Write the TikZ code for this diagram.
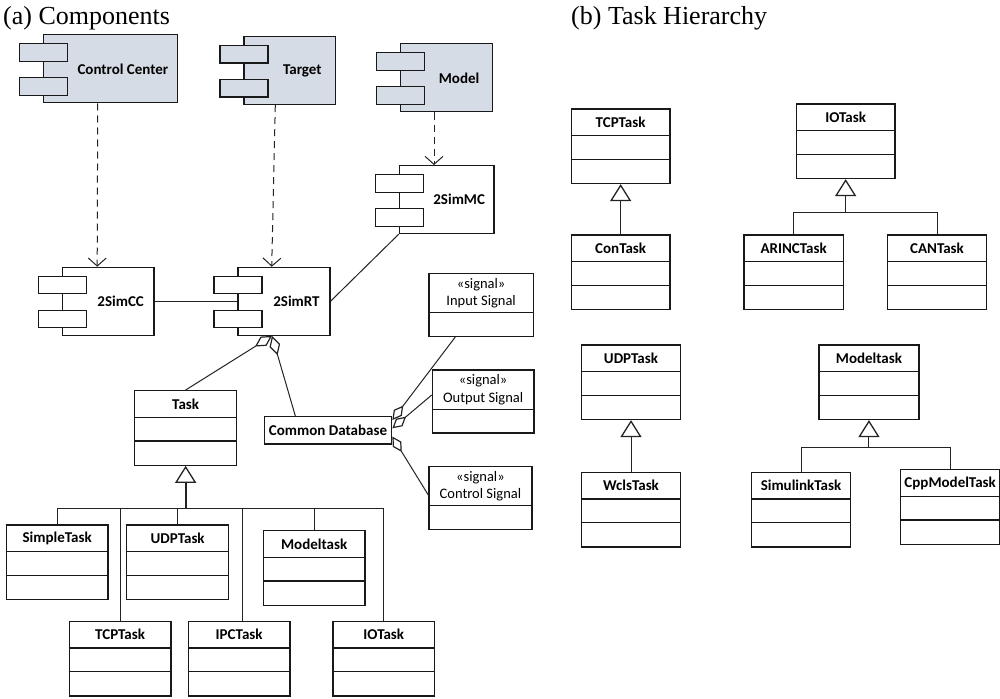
\documentclass[tikz,border=0pt]{standalone}
\usepackage{fontspec}
\setmainfont{Carlito}
\newfontfamily\headfont{Liberation Serif}
\usetikzlibrary{arrows.meta,calc}

\definecolor{compfill}{RGB}{214,220,229}
\definecolor{ink}{RGB}{25,25,25}
\definecolor{wire}{RGB}{35,35,35}

\tikzset{
  head/.style={anchor=base west, inner sep=0pt, font=\headfont\fontsize{26}{30}\selectfont},
  bold/.style={inner sep=0pt, font=\bfseries\fontsize{15}{18}\selectfont},
  plain/.style={inner sep=0pt, align=center, font=\fontsize{14.5}{17.4}\selectfont},
  compbody/.style={draw=ink, line width=1.2pt, minimum height=68pt, inner sep=0pt, anchor=north west},
  compport/.style={draw=ink, line width=1.2pt, minimum width=48pt, minimum height=17.5pt, inner sep=0pt, anchor=north west},
  clsbox/.style={draw=ink, line width=1.3pt, minimum height=74.5pt, inner sep=0pt, anchor=north west},
  sigbox/.style={draw=ink, line width=1.3pt, minimum height=63pt, inner sep=0pt, anchor=north west},
  dbbox/.style={draw=ink, line width=1.3pt, minimum width=127.4pt, minimum height=27.3pt, inner sep=0pt, bold},
  clsdiv/.style={draw=ink, line width=1.3pt},
  dep/.style={draw=wire, line width=1pt, dash pattern=on 7pt off 5pt,
    -{Straight Barb[length=8pt, width=18pt, line width=1pt]}},
  assoc/.style={draw=wire, line width=1pt},
  agg/.style={draw=wire, line width=1pt,
    -{Diamond[open, length=20pt, width=11pt, line width=1.2pt]}},
  aggs/.style={draw=wire, line width=1pt,
    -{Diamond[open, length=18pt, width=10pt, line width=1.2pt]}},
  gen/.style={draw=wire, line width=1pt,
    -{Triangle[open, length=17pt, width=21pt, line width=1.3pt]}},
  genthick/.style={gen, line width=2pt},
  tree/.style={draw=wire, line width=1pt},
}

% UML component: name, left x, top y, width, fill, label
\newcommand\umlcomp[6]{%
  \node[compbody, fill=#5, minimum width=#4pt] (#1) at (#2,#3) {};
  \node[compport, fill=#5] (#1-p1) at ($(#1.north west)+(-24,9)$) {};
  \node[compport, fill=#5] (#1-p2) at ($(#1.north west)+(-24,43)$) {};
  \node[bold] (#1-l) at ($(#1-p1.east |- #1.center)!0.5!(#1.east)$) {#6};
}

% UML class with two empty compartments: name, left x, top y, width, title
\newcommand\umlclass[5]{%
  \node[clsbox, minimum width=#4pt] (#1) at (#2,#3) {};
  \node[bold] (#1-t) at ($(#1.north)+(0,14)$) {#5};
  \draw[clsdiv] ($(#1.north west)+(0,27.3)$) -- ($(#1.north east)+(0,27.3)$);
  \draw[clsdiv] ($(#1.north west)+(0,51)$) -- ($(#1.north east)+(0,51)$);
}

% stereotyped signal class: name, left x, top y, width, label
\newcommand\umlsignal[5]{%
  \node[sigbox, minimum width=#4pt] (#1) at (#2,#3) {};
  \node[plain] (#1-t) at ($(#1.north)+(0,20.5)$) {«signal»\\#5};
  \draw[clsdiv] ($(#1.north west)+(0,40)$) -- ($(#1.north east)+(0,40)$);
}

\begin{document}
\begin{tikzpicture}[x=1pt, y=-1pt]
\useasboundingbox (0,0) rectangle (1000,698);

% headings
\node[head] (ha) at (3,24.5) {(a) Components};
\node[head] (hb) at (571,24.5) {(b) Task Hierarchy};

% ---------- (a) components ----------
\umlcomp{cc}{42.7}{34.3}{134}{compfill}{Control Center}
\umlcomp{tg}{243.3}{36}{91.7}{compfill}{Target}
\umlcomp{mdl}{400}{43.3}{91.7}{compfill}{Model}
\umlcomp{mc}{398.7}{165}{94.6}{white}{2SimMC}
\umlcomp{scc}{61.7}{266.7}{91.6}{white}{2SimCC}
\umlcomp{rt}{237.3}{266.7}{92}{white}{2SimRT}

% dependencies
\coordinate (cc-dep) at ($(cc.south west)+(55,0)$);
\coordinate (scc-dep) at ($(scc.north west)+(35.5,0)$);
\coordinate (tg-dep) at ($(tg.south west)+(32,0)$);
\coordinate (rt-dep) at ($(rt.north west)+(34.4,0)$);
\coordinate (mdl-dep) at ($(mdl.south west)+(34,0)$);
\draw[dep] (cc-dep) -- (scc-dep);
\draw[dep] (tg-dep) -- (rt-dep);
\draw[dep] (mdl-dep) -- (mdl-dep |- mc.north);

% associations
\draw[assoc] (scc.east) -- (rt.west);
\draw[assoc] (mc.south west) -- (rt.east);

% classes
\umlclass{task}{134}{390}{102}{Task}
\node[dbbox] (cdb) at (328,430.3) {Common Database};
\umlsignal{insig}{428.3}{272.7}{104.4}{Input Signal}
\umlsignal{outsig}{431.7}{369.3}{101.6}{Output Signal}
\umlsignal{ctlsig}{428.3}{465.7}{103}{Control Signal}

% aggregations into 2SimRT
\coordinate (rt-agg) at ($(rt.south west)+(34.7,0)$);
\coordinate (cdb-top) at ($(cdb.north west)+(31.7,0)$);
\draw[agg] (task.north) -- (rt-agg);
\draw[agg] (cdb-top) -- (rt-agg);

% aggregations into Common Database
\coordinate (cdb-a1) at ($(cdb.north east)+(0,4)$);
\coordinate (cdb-a2) at ($(cdb.north east)+(0,12.3)$);
\coordinate (cdb-a3) at ($(cdb.north east)+(0,20.6)$);
\coordinate (in-a) at ($(insig.south west)+(27,0)$);
\coordinate (out-a) at ($(outsig.north west)+(0,25.7)$);
\coordinate (ctl-a) at ($(ctlsig.north west)+(0,29.3)$);
\draw[aggs] (in-a) -- (cdb-a1);
\draw[aggs] (out-a) -- (cdb-a2);
\draw[aggs] (ctl-a) -- (cdb-a3);

% task subclasses
\umlclass{simple}{5.7}{524.3}{101.6}{SimpleTask}
\umlclass{udp}{126}{524.3}{102}{UDPTask}
\umlclass{model}{262.7}{530}{101.6}{Modeltask}
\umlclass{tcp}{68.7}{620.7}{101.6}{TCPTask}
\umlclass{ipc}{187.7}{620.7}{101.6}{IPCTask}
\umlclass{io}{332.3}{620.7}{101.7}{IOTask}

\coordinate (tbus) at ($(task.south)+(0,42.4)$);
\coordinate (ipc-up) at ($(ipc.north)+(3,0)$);
\draw[genthick] (tbus) -- (task.south);
\draw[tree] (tbus -| simple.north) -- (tbus -| io.north);
\draw[tree] (tbus -| simple.north) -- (simple.north);
\draw[tree] (tbus -| tcp.north) -- (tcp.north);
\draw[tree] (tbus -| udp.north) -- (udp.north);
\draw[tree] (tbus -| ipc-up) -- (ipc-up);
\draw[tree] (tbus -| model.north) -- (model.north);
\draw[tree] (tbus -| io.north) -- (io.north);

% ---------- (b) task hierarchy ----------
\umlclass{tcp2}{570.7}{108.3}{98.6}{TCPTask}
\umlclass{con}{570.7}{234.3}{98.6}{ConTask}
\draw[gen] (con.north) -- (tcp2.south);

\umlclass{io2}{795.7}{103.3}{98.6}{IOTask}
\umlclass{arinc}{743.3}{234.3}{99.4}{ARINCTask}
\umlclass{can}{886.7}{234.3}{99.3}{CANTask}
\coordinate (iobus) at ($(io2.south)+(0,33.3)$);
\draw[gen] (iobus) -- (io2.south);
\draw[tree] (iobus -| arinc.north) -- (arinc.north);
\draw[tree] (iobus -| arinc.north) -- (iobus -| can.north) -- (can.north);

\umlclass{udp2}{580.7}{344.3}{99.3}{UDPTask}
\umlclass{wcls}{580.7}{471.7}{99.3}{WclsTask}
\draw[gen] (wcls.north) -- (udp2.south);

\umlclass{mt2}{818.3}{344.3}{100}{Modeltask}
\umlclass{sim}{750.7}{471.7}{99.3}{SimulinkTask}
\umlclass{cpp}{900}{469}{99}{CppModelTask}
\coordinate (mtbus) at ($(mt2.south)+(0,27.7)$);
\draw[gen] (mtbus) -- (mt2.south);
\draw[tree] (mtbus -| sim.north) -- (sim.north);
\draw[tree] (mtbus -| sim.north) -- (mtbus -| cpp.north) -- (cpp.north);
\end{tikzpicture}
\end{document}
